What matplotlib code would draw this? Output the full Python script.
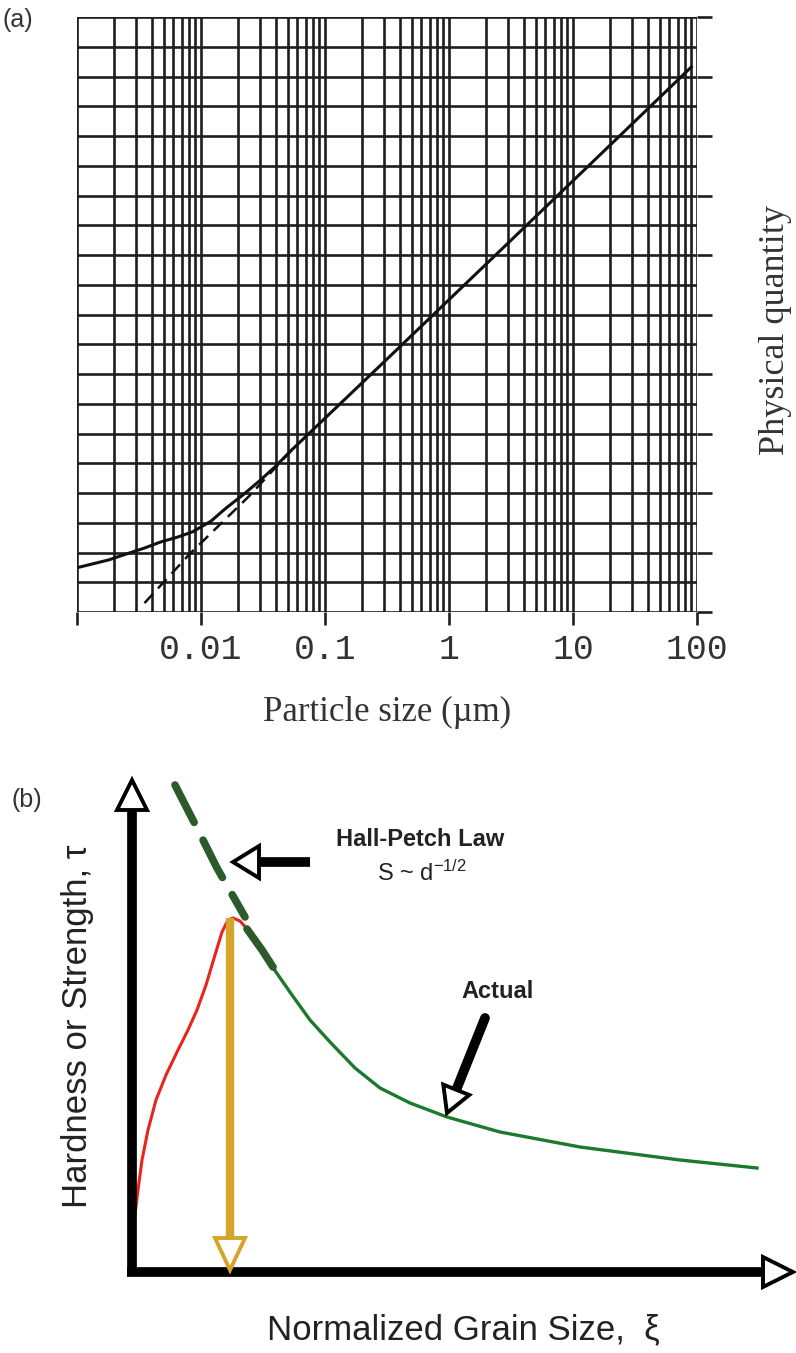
import matplotlib
matplotlib.use("Agg")
import matplotlib.pyplot as plt
from matplotlib.patches import Polygon
import numpy as np

plt.rcParams['font.family'] = ['Liberation Sans', 'DejaVu Sans']
plt.rcParams['mathtext.default'] = 'regular'

# ---- panel (a): particle size vs physical quantity ----
size_solid = [0.00105, 0.0018, 0.0025, 0.0035, 0.0047, 0.0065, 0.0085,
              0.012, 0.016, 0.022, 0.0295, 0.04, 0.054, 0.3, 2.0, 15.0, 90.0]
qty_solid = [1.51, 1.75, 1.95, 2.15, 2.35, 2.52, 2.69,
             3.05, 3.50, 3.95, 4.40, 4.90, 5.45, 8.41, 11.70, 15.20, 18.32]
size_dash = [0.0035, 0.0081, 0.0245, 0.054]
qty_dash = [0.30, 1.95, 3.90, 5.45]
size_ticks = [0.001, 0.01, 0.1, 1, 10, 100]
size_ticklabels = ['', '0.01', '0.1', '1', '10', '100']

# ---- panel (b): Hall-Petch sketch (arbitrary units) ----
xi_red = [0.02, 0.05, 0.09, 0.15, 0.23, 0.33, 0.45, 0.55, 0.64, 0.73,
          0.82, 0.89, 0.95, 1.00, 1.07, 1.15]
tau_red = [0.57, 0.82, 1.12, 1.42, 1.72, 1.97, 2.22, 2.42, 2.62, 2.87,
           3.17, 3.40, 3.52, 3.54, 3.51, 3.42]
xi_green = [1.15, 1.29, 1.43, 1.59, 1.77, 1.97, 2.22, 2.47, 2.77, 3.14,
            3.67, 4.47, 5.47, 6.24]
tau_green = [3.42, 3.22, 3.00, 2.77, 2.52, 2.30, 2.04, 1.84, 1.69, 1.55,
             1.40, 1.25, 1.12, 1.04]
xi_hp = [0.42, 0.64, 0.84, 1.12]
tau_hp = [4.87, 4.44, 4.04, 3.55]
xi_hp2 = [1.14, 1.29, 1.40]
tau_hp2 = [3.43, 3.22, 3.05]
xi_peak = 0.97
tau_peak = 3.54

fig = plt.figure(figsize=(7.96, 13.53), dpi=100)
W, H = 796.0, 1353.0

# ---------------- (a) ----------------
ax1 = fig.add_axes([77 / W, 1 - 612 / H, 620 / W, 595 / H])
ax1.set_xscale('log')
ax1.set_xlim(0.001, 100)
ax1.set_ylim(0, 20)
gc = '#1e1e1e'
for k in range(-3, 2):
    for m in range(1, 10):
        ax1.axvline(m * 10.0 ** k, color=gc, lw=1.9, zorder=1)
ax1.axvline(100, color=gc, lw=1.9, zorder=1)
for j in range(0, 21):
    ax1.axhline(j, color=gc, lw=1.9, zorder=1)

ax1.plot(size_solid, qty_solid, color='#111111', lw=2.2, zorder=3)
ax1.plot(size_dash, qty_dash, color='#111111', lw=1.8, ls=(0, (5, 3)), zorder=3)

for s in ax1.spines.values():
    s.set_visible(False)
ax1.set_xticks(size_ticks)
ax1.set_xticklabels(size_ticklabels, family='Liberation Mono', fontsize=25, color='#333333')
ax1.xaxis.set_minor_locator(matplotlib.ticker.NullLocator())
ax1.tick_params(axis='x', direction='out', length=9, width=1.9, color=gc, pad=6)
ax1.yaxis.tick_right()
ax1.set_yticks(range(0, 21, 2))
ax1.set_yticklabels([])
ax1.tick_params(axis='y', direction='out', length=11, width=1.9, color=gc)
ax1.set_xlabel('Particle size (\u00b5m)', family='Liberation Serif', fontsize=25,
               color='#333333', labelpad=22)
fig.text(775 / W, 1 - 330 / H, 'Physical quantity', family='Liberation Serif',
         fontsize=26, color='#333333', rotation=90, ha='center', va='center')
fig.text(3 / W, 1 - 20 / H, '(a)', fontsize=18, color='#333333', ha='left', va='center')

# ---------------- (b) ----------------
ax2 = fig.add_axes([0, 0, 1, (1353 - 760) / H])
ax2.set_xlim(-1.33, 6.63)
ax2.set_ylim(-0.81, 5.12)
ax2.axis('off')


def head(ax, tip, direction, length, half, color):
    d = np.array(direction, float)
    d /= np.hypot(*d)
    n = np.array([-d[1], d[0]])
    t = np.array(tip, float)
    base = t - d * length
    tri = [t, base + n * half, base - n * half]
    ax.add_patch(Polygon(tri, closed=True, fc='white', ec=color, lw=2.8,
                         joinstyle='miter', zorder=6))
    return base


# axes arrows
b = head(ax2, (-0.01, 4.92), (0, 1), 0.30, 0.15, 'black')
ax2.plot([-0.01, -0.01], [-0.04, b[1]], color='black', lw=7, solid_capstyle='butt', zorder=5)
b = head(ax2, (6.60, 0), (1, 0), 0.30, 0.15, 'black')
ax2.plot([-0.06, b[0]], [0, 0], color='black', lw=7, solid_capstyle='butt', zorder=5)

# curves
ax2.plot(xi_red, tau_red, color='#e8241c', lw=2.2, zorder=3)
ax2.plot(xi_green, tau_green, color='#1c7a2c', lw=2.4, zorder=3)
ax2.plot(xi_hp, tau_hp, color='#2b5b2b', lw=5.5, ls=(0, (5.5, 2.6)),
         solid_capstyle='round', dash_capstyle='round', zorder=4)
ax2.plot(xi_hp2, tau_hp2, color='#2b5b2b', lw=5.5, solid_capstyle='round', zorder=4)

# gold arrow at the peak
b = head(ax2, (xi_peak, 0.02), (0, -1), 0.32, 0.15, '#d5a42a')
ax2.plot([xi_peak, xi_peak], [tau_peak, b[1]], color='#d5a42a', lw=6,
         solid_capstyle='butt', zorder=5)

# Hall-Petch pointer
b = head(ax2, (1.00, 4.10), (-1, 0), 0.26, 0.16, 'black')
ax2.plot([b[0], 1.77], [4.10, 4.10], color='black', lw=7, solid_capstyle='butt', zorder=5)
ax2.text(2.87, 4.32, 'Hall-Petch Law', fontsize=17, fontweight='bold',
         ha='center', va='center', color='#222222')
ax2.text(2.89, 3.99, 'S ~ d$^{-1/2}$', fontsize=17,
         ha='center', va='center', color='#222222')

# Actual pointer
b = head(ax2, (3.14, 1.59), (3.14 - 3.52, 1.59 - 2.54), 0.25, 0.14, 'black')
ax2.plot([b[0], 3.52], [b[1], 2.54], color='black', lw=7, solid_capstyle='round', zorder=5)
ax2.text(3.65, 2.80, 'Actual', fontsize=17, fontweight='bold',
         ha='center', va='center', color='#222222')

ax2.text(-0.55, 2.46, 'Hardness or Strength, \u03c4', fontsize=25, rotation=90,
         ha='center', va='center', color='#222222')
ax2.text(3.30, -0.58, 'Normalized Grain Size,  \u03be', fontsize=25,
         ha='center', va='center', color='#222222')
ax2.text(-1.06, 4.72, '(b)', fontsize=18, ha='center', va='center', color='#333333')

fig.savefig('out.png', dpi=100, facecolor='white')
